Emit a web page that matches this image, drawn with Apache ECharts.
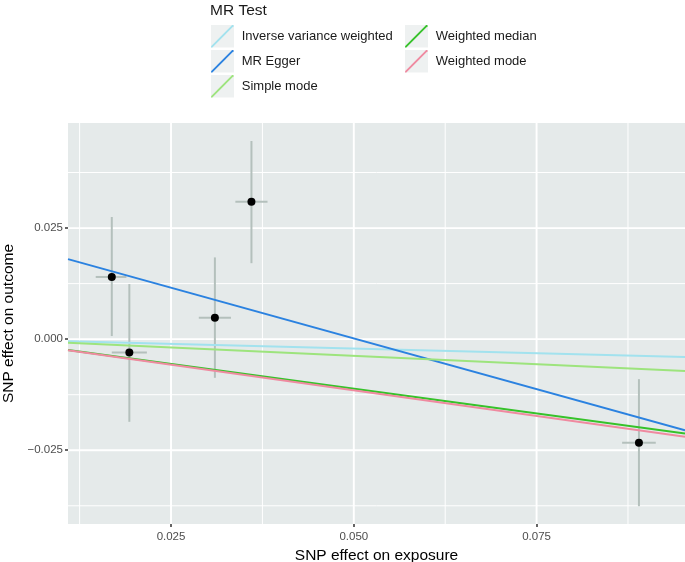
<!DOCTYPE html>
<html>
<head>
<meta charset="utf-8">
<script src="https://cdn.jsdelivr.net/npm/echarts@6/dist/echarts.min.js"></script>
<style>
  html, body { margin: 0; padding: 0; background: #fff; }
  #chart { width: 685px; height: 562px; }
</style>
</head>
<body>
<div id="chart"></div>
<script>
// axis ranges and ticks
const xMin = 0.01091, xMax = 0.0953;
const yMin = -0.0416, yMax = 0.04865;
const xTicks = [0.025, 0.05, 0.075];
const xMinor = [0.0125, 0.0375, 0.0625, 0.0875];
const yTicks = [-0.025, 0, 0.025];
const yMinor = [-0.0375, -0.0125, 0.0125, 0.0375];

// SNP estimates with error bars
const snpX = [0.0169, 0.0193, 0.0310, 0.0360, 0.0890];
const snpY = [0.0140, -0.0030, 0.0048, 0.0309, -0.0233];
const xLo = [0.0147, 0.0169, 0.0288, 0.0338, 0.0867];
const xHi = [0.0189, 0.0217, 0.0332, 0.0382, 0.0913];
const yLo = [0.0007, -0.0186, -0.0087, 0.0171, -0.0376];
const yHi = [0.0275, 0.0124, 0.0184, 0.0446, -0.0090];

// MR methods (abline slope / intercept)
const methods = ["Inverse variance weighted", "MR Egger", "Simple mode", "Weighted median", "Weighted mode"];
const slopes = [-0.0419, -0.4565, -0.0749, -0.2226, -0.2306];
const intercepts = [0, 0.0230, 0, 0, 0];
const colors = ["#a2e2ee", "#2b82e0", "#9de47d", "#36c22a", "#ef8aa0"];

const legendCol1 = methods.slice(0, 3);
const legendCol2 = methods.slice(3);

let chart = echarts.init(document.getElementById("chart"));

const font = "Liberation Sans, Arial, Helvetica, sans-serif";
const fmt = v => (v < 0 ? "\u2212" : "") + Math.abs(v).toFixed(3);

function gridSeries(values, vertical, width) {
  return {
    type: "custom",
    silent: true,
    z: 1,
    data: values.map(v => [v]),
    renderItem: (params, api) => {
      const cs = params.coordSys;
      if (vertical) {
        const px = api.coord([api.value(0), 0])[0];
        return { type: "line", shape: { x1: px, y1: cs.y, x2: px, y2: cs.y + cs.height },
                 style: { stroke: "#fff", lineWidth: width } };
      }
      const py = api.coord([xMin, api.value(0)])[1];
      return { type: "line", shape: { x1: cs.x, y1: py, x2: cs.x + cs.width, y2: py },
               style: { stroke: "#fff", lineWidth: width } };
    }
  };
}

let series = [
  gridSeries(xMinor, true, 1),
  gridSeries(yMinor, false, 1),
  gridSeries(xTicks, true, 1.9),
  gridSeries(yTicks, false, 1.9),
  {
    type: "custom",
    silent: true,
    z: 2,
    data: snpX.map((x, i) => [x, snpY[i], xLo[i], xHi[i], yLo[i], yHi[i]]),
    renderItem: (params, api) => {
      const lo = api.coord([api.value(2), api.value(1)]);
      const hi = api.coord([api.value(3), api.value(1)]);
      const b = api.coord([api.value(0), api.value(4)]);
      const t = api.coord([api.value(0), api.value(5)]);
      const st = { stroke: "#b4c0bc", lineWidth: 2 };
      return { type: "group", children: [
        { type: "line", shape: { x1: b[0], y1: b[1], x2: t[0], y2: t[1] }, style: st },
        { type: "line", shape: { x1: lo[0], y1: lo[1], x2: hi[0], y2: hi[1] }, style: st }
      ] };
    }
  },
  {
    type: "scatter",
    silent: true,
    z: 3,
    symbolSize: 8,
    itemStyle: { color: "#000", opacity: 1 },
    data: snpX.map((x, i) => [x, snpY[i]])
  }
];

methods.forEach((m, i) => {
  series.push({
    name: m,
    type: "line",
    z: 4,
    silent: true,
    showSymbol: false,
    color: colors[i],
    lineStyle: { width: 2, color: colors[i] },
    data: [[xMin, intercepts[i] + slopes[i] * xMin], [xMax, intercepts[i] + slopes[i] * xMax]]
  });
});

const keyW = 23, keyH = 22.5, keyGap = 2.5;
const legendTop = 25;
const col1Left = 211, col2Left = 405;
const keyIcon = "path://M0,100 L0,94 L94,0 L100,0 L100,6 L6,100 Z";

let keyRects = [];
[[legendCol1, col1Left], [legendCol2, col2Left]].forEach(([items, left]) => {
  items.forEach((m, r) => {
    keyRects.push({
      type: "rect",
      left: left,
      top: legendTop + r * (keyH + keyGap),
      z: 0,
      shape: { width: keyW, height: keyH },
      style: { fill: "#eef1f1" }
    });
  });
});

function legendCol(items, left) {
  return {
    data: items,
    orient: "vertical",
    left: left,
    top: legendTop,
    padding: 0,
    itemWidth: keyW,
    itemHeight: keyH,
    itemGap: keyGap,
    icon: keyIcon,
    selectedMode: false,
    itemStyle: { borderWidth: 0 },
    textStyle: { fontFamily: font, fontSize: 13, color: "#1a1a1a", padding: [0, 0, 0, 3] }
  };
}

let option = {
  animation: false,
  title: {
    text: "MR Test",
    left: 210,
    top: 3,
    padding: 0,
    textStyle: { fontFamily: font, fontSize: 15.5, fontWeight: "normal", color: "#1a1a1a" }
  },
  legend: [legendCol(legendCol1, col1Left), legendCol(legendCol2, col2Left)],
  graphic: keyRects,
  grid: {
    left: 68, top: 123, right: 0, bottom: 38,
    outerBoundsMode: "none",
    containLabel: false,
    show: true, backgroundColor: "#e5eaea", borderWidth: 0
  },
  xAxis: {
    type: "value",
    min: xMin, max: xMax,
    name: "SNP effect on exposure",
    nameLocation: "middle",
    nameGap: 16,
    nameTextStyle: { fontFamily: font, fontSize: 15.5, color: "#000" },
    axisLine: { show: false, onZero: false },
    splitLine: { show: false },
    axisTick: { show: true, customValues: xTicks, length: 3, lineStyle: { color: "#333", width: 1.5 } },
    axisLabel: { customValues: xTicks, formatter: fmt, margin: 7, fontFamily: font, fontSize: 11.5, color: "#4d4d4d" }
  },
  yAxis: {
    type: "value",
    min: yMin, max: yMax,
    name: "SNP effect on outcome",
    nameLocation: "middle",
    nameGap: 43,
    nameTextStyle: { fontFamily: font, fontSize: 15.5, color: "#000" },
    axisLine: { show: false, onZero: false },
    splitLine: { show: false },
    axisTick: { show: true, customValues: yTicks, length: 3, lineStyle: { color: "#333", width: 1.5 } },
    axisLabel: { customValues: yTicks, formatter: fmt, margin: 5, fontFamily: font, fontSize: 11.5, color: "#4d4d4d" }
  },
  series: series
};

chart.setOption(option);
</script>
</body>
</html>
